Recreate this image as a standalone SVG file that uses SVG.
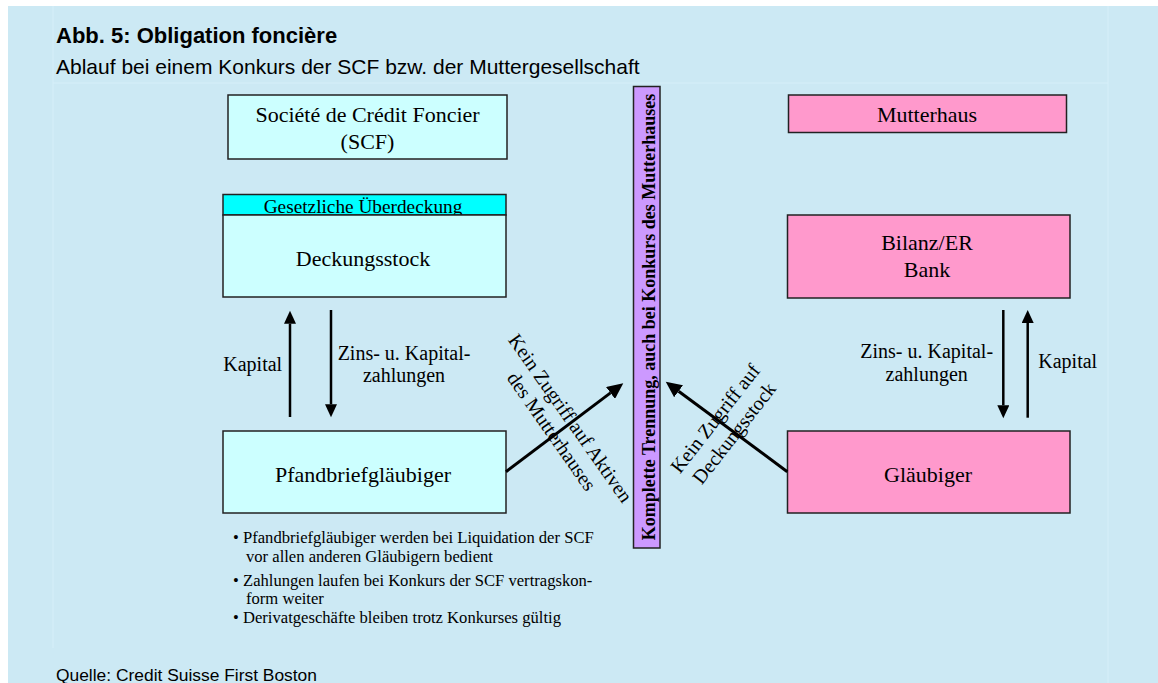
<svg xmlns="http://www.w3.org/2000/svg" width="1158" height="683" viewBox="0 0 1158 683">
  <style>
    .sans { font-family: "Liberation Sans", Arial, sans-serif; fill: #000; }
    .serif { font-family: "Liberation Serif", "Times New Roman", serif; fill: #000; }
    .box { stroke: #222; stroke-width: 1.5; }
    .cyan { fill: #CCFFFF; }
    .pink { fill: #FF99CC; }
    .lbl { font-size: 20px; }
    .big { font-size: 22px; }
    .flow { stroke: #000; stroke-width: 2.5; fill: none; }
    .diag { stroke: #000; stroke-width: 3; fill: none; }
    .grid { stroke: #D6EFF9; stroke-width: 1; }
  </style>
  <defs>
    <marker id="ah" markerUnits="userSpaceOnUse" markerWidth="14" markerHeight="12" refX="0" refY="6" orient="auto">
      <path d="M0,0 L13,6 L0,12 z" fill="#000"/>
    </marker>
    <marker id="ahd" markerUnits="userSpaceOnUse" markerWidth="17" markerHeight="15" refX="0" refY="7.5" orient="auto">
      <path d="M0,0 L16,7.5 L0,15 z" fill="#000"/>
    </marker>
  </defs>

  <rect x="8" y="6" width="1150" height="677" fill="#CCE9F4"/>
  <g id="grid">
    <line class="grid" x1="53" y1="6" x2="53" y2="648"/>
    <line class="grid" x1="1108" y1="6" x2="1108" y2="683"/>
    <line class="grid" x1="53" y1="83" x2="1108" y2="83"/>
  </g>

  <g id="title">
    <text class="sans" x="56" y="43" font-size="22" font-weight="bold">Abb. 5: Obligation foncière</text>
    <text class="sans" x="56" y="74" font-size="21">Ablauf bei einem Konkurs der SCF bzw. der Muttergesellschaft</text>
  </g>

  <g id="scf">
    <rect class="box cyan" x="228" y="95" width="279" height="64"/>
    <text class="serif big" x="367.5" y="122" text-anchor="middle">Société de Crédit Foncier</text>
    <text class="serif big" x="367.5" y="149" text-anchor="middle">(SCF)</text>
  </g>

  <g id="deckungsstock">
    <rect class="box" x="223" y="194.5" width="283" height="20.5" fill="#00FFFF"/>
    <text class="serif" x="363" y="212.5" font-size="19.3" text-anchor="middle">Gesetzliche Überdeckung</text>
    <rect class="box cyan" x="223" y="215" width="283" height="82"/>
    <text class="serif big" x="363" y="265.5" text-anchor="middle">Deckungsstock</text>
  </g>

  <g id="pfandbrief">
    <rect class="box cyan" x="223" y="431" width="283" height="82"/>
    <text class="serif big" x="363" y="481.5" text-anchor="middle">Pfandbriefgläubiger</text>
  </g>

  <g id="bullets" class="serif" font-size="16.6">
    <text x="233" y="543">•</text>
    <text x="243" y="543">Pfandbriefgläubiger werden bei Liquidation der SCF</text>
    <text x="246" y="561.5">vor allen anderen Gläubigern bedient</text>
    <text x="233" y="585.5">•</text>
    <text x="243" y="585.5">Zahlungen laufen bei Konkurs der SCF vertragskon-</text>
    <text x="246" y="604">form weiter</text>
    <text x="233" y="623">•</text>
    <text x="243" y="623">Derivatgeschäfte bleiben trotz Konkurses gültig</text>
  </g>

  <g id="trennung">
    <rect class="box" x="633.5" y="86.5" width="26.5" height="461.5" fill="#CC99FF"/>
    <text class="serif" transform="translate(655,317) rotate(-90)" font-size="18" font-weight="bold" text-anchor="middle">Komplette Trennung, auch bei Konkurs des Mutterhauses</text>
  </g>

  <g id="mutterhaus">
    <rect class="box pink" x="788.5" y="95" width="278" height="37.5"/>
    <text class="serif big" x="927" y="121.5" text-anchor="middle">Mutterhaus</text>
  </g>

  <g id="bilanz">
    <rect class="box pink" x="787.5" y="215" width="282.5" height="83"/>
    <text class="serif big" x="927" y="250" text-anchor="middle">Bilanz/ER</text>
    <text class="serif big" x="927" y="276.5" text-anchor="middle">Bank</text>
  </g>

  <g id="glaeubiger">
    <rect class="box pink" x="787.5" y="431" width="282.5" height="82"/>
    <text class="serif big" x="928" y="481.5" text-anchor="middle">Gläubiger</text>
  </g>

  <g id="connectors">
    <line class="flow" x1="290" y1="417" x2="290" y2="323.7" marker-end="url(#ah)"/>
    <line class="flow" x1="331" y1="310" x2="331" y2="404.3" marker-end="url(#ah)"/>
    <line class="flow" x1="1003.3" y1="310" x2="1003.3" y2="405.3" marker-end="url(#ah)"/>
    <line class="flow" x1="1027.7" y1="417.7" x2="1027.7" y2="323" marker-end="url(#ah)"/>
    <line class="diag" x1="506" y1="471.7" x2="610.5" y2="392.9" marker-end="url(#ahd)"/>
    <line class="diag" x1="787.3" y1="471.7" x2="678.6" y2="391.2" marker-end="url(#ahd)"/>
  </g>

  <g id="labels" class="serif lbl">
    <text x="223.3" y="370.7">Kapital</text>
    <text x="404" y="360" text-anchor="middle">Zins- u. Kapital-</text>
    <text x="404" y="381.7" text-anchor="middle">zahlungen</text>
    <text x="926.7" y="358.3" text-anchor="middle">Zins- u. Kapital-</text>
    <text x="926.7" y="381" text-anchor="middle">zahlungen</text>
    <text x="1038.3" y="368.3">Kapital</text>
    <text transform="translate(565,422) rotate(55)" text-anchor="middle"><tspan x="0" y="0">Kein Zugriff auf Aktiven</tspan><tspan x="0" y="23">des Mutterhauses</tspan></text>
    <text transform="translate(720.5,422.6) rotate(-52)" text-anchor="middle"><tspan x="0" y="0">Kein Zugriff auf</tspan><tspan x="0" y="24">Deckungsstock</tspan></text>
  </g>

  <g id="source">
    <text class="sans" x="56" y="681" font-size="17.4">Quelle: Credit Suisse First Boston</text>
  </g>
</svg>
